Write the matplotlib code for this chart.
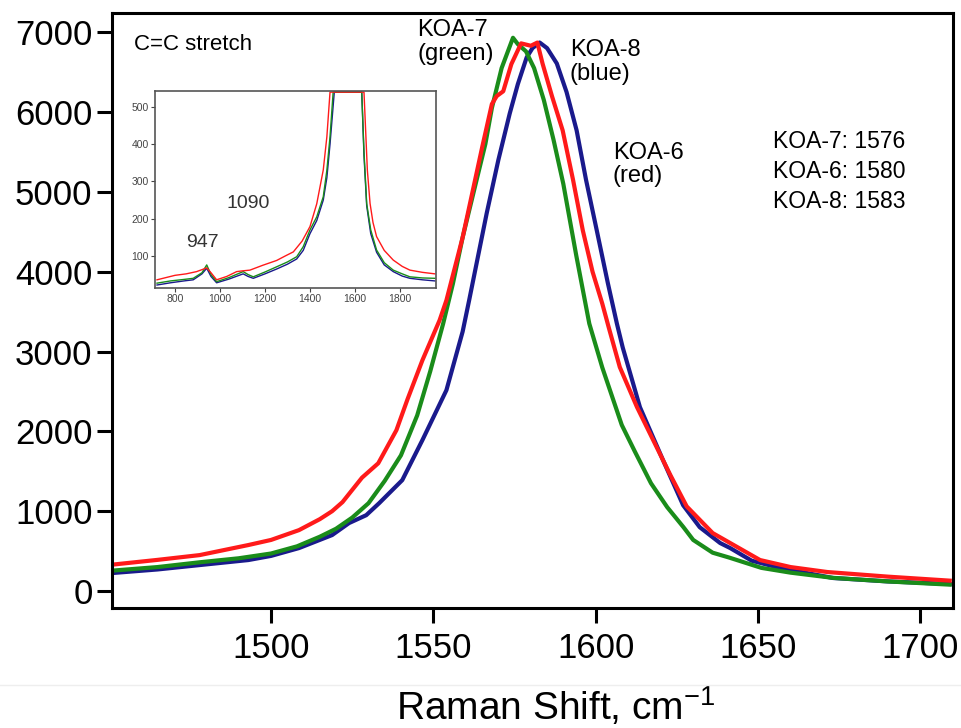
import numpy as np
import matplotlib
matplotlib.use("Agg")
import matplotlib.pyplot as plt
from matplotlib.lines import Line2D

plt.rcParams['font.family'] = ['Liberation Sans', 'DejaVu Sans']
plt.rcParams['mathtext.default'] = 'regular'

# C=C stretch band, main view
x_koa7 = [1451, 1465, 1478, 1490, 1500, 1508, 1515, 1520, 1525, 1530, 1535, 1540, 1542, 1545,
          1549, 1553, 1556, 1559, 1563, 1566, 1568, 1571, 1574.5, 1576, 1578.5, 1581, 1584,
          1587, 1590, 1594, 1598, 1602, 1608, 1612, 1617, 1622, 1627, 1630, 1636, 1641, 1651,
          1660, 1673, 1690, 1709]
y_koa7 = [255, 300, 360, 410, 470, 560, 680, 780, 920, 1100, 1380, 1700, 1900, 2200,
          2750, 3350, 3850, 4430, 5100, 5600, 6050, 6550, 6930, 6850, 6760, 6550, 6150,
          5650, 5100, 4200, 3350, 2800, 2080, 1750, 1350, 1050, 800, 640, 480, 420, 290,
          230, 165, 120, 80]

x_koa6 = [1451, 1465, 1478, 1493, 1500, 1508.6, 1515, 1518.8, 1522, 1528, 1533, 1538.6, 1542,
          1546.6, 1551.9, 1554, 1559, 1565, 1568, 1569.5, 1571.5, 1574, 1577, 1580, 1582,
          1583.6, 1586.5, 1589.8, 1593, 1596, 1599, 1602, 1604, 1607.4, 1612.7, 1620.7, 1623,
          1628, 1636, 1641.4, 1650.6, 1660, 1671.3, 1690, 1709]
y_koa6 = [330, 390, 450, 576, 640, 763, 900, 1000, 1114, 1420, 1600, 2015, 2400,
          2890, 3392, 3642, 4430, 5557, 6100, 6200, 6260, 6600, 6860, 6830, 6870,
          6608, 6200, 5770, 5150, 4518, 4000, 3600, 3300, 2804, 2303, 1640, 1450,
          1060, 726, 601, 388, 300, 238, 180, 130]

x_koa8 = [1451, 1465, 1478, 1493, 1500, 1508.6, 1518.8, 1524, 1529.3, 1533.3, 1540.4, 1546.6,
          1554, 1559, 1561, 1566.4, 1570, 1573.5, 1576, 1578.7, 1580.5, 1582.7, 1585, 1588,
          1591, 1594.1, 1597, 1600.3, 1603.7, 1606.5, 1608.3, 1613.6, 1620.7, 1626.9, 1632,
          1638.3, 1641.4, 1648, 1656.8, 1673.1, 1690, 1709]
y_koa8 = [225, 270, 325, 388, 440, 538, 701, 851, 950, 1101, 1389, 1890,
          2516, 3250, 3642, 4731, 5400, 5982, 6350, 6683, 6800, 6871, 6800, 6608,
          6250, 5770, 5150, 4518, 3860, 3350, 3050, 2303, 1640, 1075, 800,
          601, 538, 380, 288, 163, 120, 88]

# wide-range spectra for the inset
xi_koa7 = [720, 780, 840, 881, 920, 941, 960, 985, 1040, 1103, 1125, 1148, 1200, 1252, 1300,
           1341, 1370, 1400, 1430, 1459, 1475, 1489, 1503, 1580, 1630, 1640, 1652, 1670, 1696,
           1730, 1770, 1810, 1844, 1900, 1955]
yi_koa7 = [27, 33, 37, 40, 55, 76, 50, 31, 42, 58, 50, 44, 57, 71, 84,
           98, 125, 170, 205, 259, 330, 420, 541, 6930, 541, 380, 241, 170, 116,
           82, 62, 52, 44, 41, 40]

xi_koa6 = [720, 760, 800, 850, 896, 941, 960, 985, 1030, 1074, 1100, 1133, 1190, 1252, 1290,
           1326, 1365, 1400, 1430, 1459, 1475, 1489, 1500, 1580, 1630, 1640, 1655, 1667, 1680,
           1696, 1730, 1770, 1810, 1844, 1900, 1955]
yi_koa6 = [36, 42, 48, 52, 58, 68, 55, 36, 45, 58, 60, 62, 75, 88, 100,
           111, 140, 179, 240, 331, 420, 543, 900, 6870, 900, 543, 330, 241, 190,
           152, 115, 89, 72, 62, 56, 52]

xi_koa8 = [720, 780, 840, 881, 920, 941, 960, 985, 1040, 1103, 1125, 1148, 1200, 1252, 1300,
           1341, 1370, 1400, 1430, 1459, 1475, 1489, 1508, 1580, 1630, 1640, 1652, 1670, 1696,
           1730, 1770, 1810, 1844, 1900, 1955]
yi_koa8 = [22, 28, 33, 36, 52, 67, 45, 28, 38, 52, 45, 40, 52, 65, 78,
           92, 115, 160, 195, 250, 310, 400, 541, 6870, 541, 370, 235, 160, 110,
           76, 58, 46, 40, 36, 33]

peak_labels = ['KOA-7: 1576', 'KOA-6: 1580', 'KOA-8: 1583']

red = '#ff1a1a'
green = '#1a8c1a'
blue = '#1a1a8c'

fig = plt.figure(figsize=(9.62, 7.28), dpi=100)
ax = fig.add_axes([0.1164, 0.1648, 0.8742, 0.8173])

ax.plot(x_koa8, y_koa8, color=blue, lw=3)
ax.plot(x_koa7, y_koa7, color=green, lw=3)
ax.plot(x_koa6, y_koa6, color=red, lw=3)

ax.set_xlim(1451, 1710)
ax.set_ylim(-213, 7240)
ax.set_xticks([1500, 1550, 1600, 1650, 1700])
ax.set_yticks(range(0, 7001, 1000))
ax.tick_params(labelsize=25, length=11, width=2.2, direction='out', pad=3)
ax.tick_params(axis='x', pad=6)
for s in ax.spines.values():
    s.set_linewidth(2.2)

ax.set_xlabel('Raman Shift, cm$^{-1}$', fontsize=28)
ax.xaxis.set_label_coords(0.528, -0.13)

ax.text(1457.7, 6846, 'C=C stretch', fontsize=16, va='center')
ax.text(1545, 7160, 'KOA-7\n(green)', fontsize=17, va='top', linespacing=1.1)
ax.text(1592, 6910, 'KOA-8\n(blue)', fontsize=17, va='top', linespacing=1.1)
ax.text(1605.2, 5630, 'KOA-6\n(red)', fontsize=17, va='top', linespacing=1.1)
ax.text(1654.6, 5780, '\n'.join(peak_labels), fontsize=16.5, va='top', linespacing=1.4)

# inset: wide range, cut off at the top
ins = fig.add_axes([0.1611, 0.6044, 0.2921, 0.2706])
top = 540
ins.plot(xi_koa8, np.minimum(yi_koa8, top), color=blue, lw=1)
ins.plot(xi_koa7, np.minimum(yi_koa7, top), color=green, lw=1)
ins.plot(xi_koa6, np.minimum(yi_koa6, top), color=red, lw=1)
ins.set_xlim(711, 1960)
ins.set_ylim(14, 543)
ins.set_xticks(range(800, 1801, 200))
ins.set_yticks(range(100, 501, 100))
ins.tick_params(labelsize=7.5, length=3, width=0.8, colors='#444444', pad=1.5)
for s in ins.spines.values():
    s.set_linewidth(1.2)
    s.set_color('#555555')
ins.text(849, 137, '947', fontsize=14, color='#333333', va='center')
ins.text(1031, 240, '1090', fontsize=14, color='#333333', va='center')

fig.add_artist(Line2D([0, 1], [1 - 685 / 728] * 2, color='#eeeeee', lw=1,
                      transform=fig.transFigure))

fig.savefig('out.png', dpi=100)
